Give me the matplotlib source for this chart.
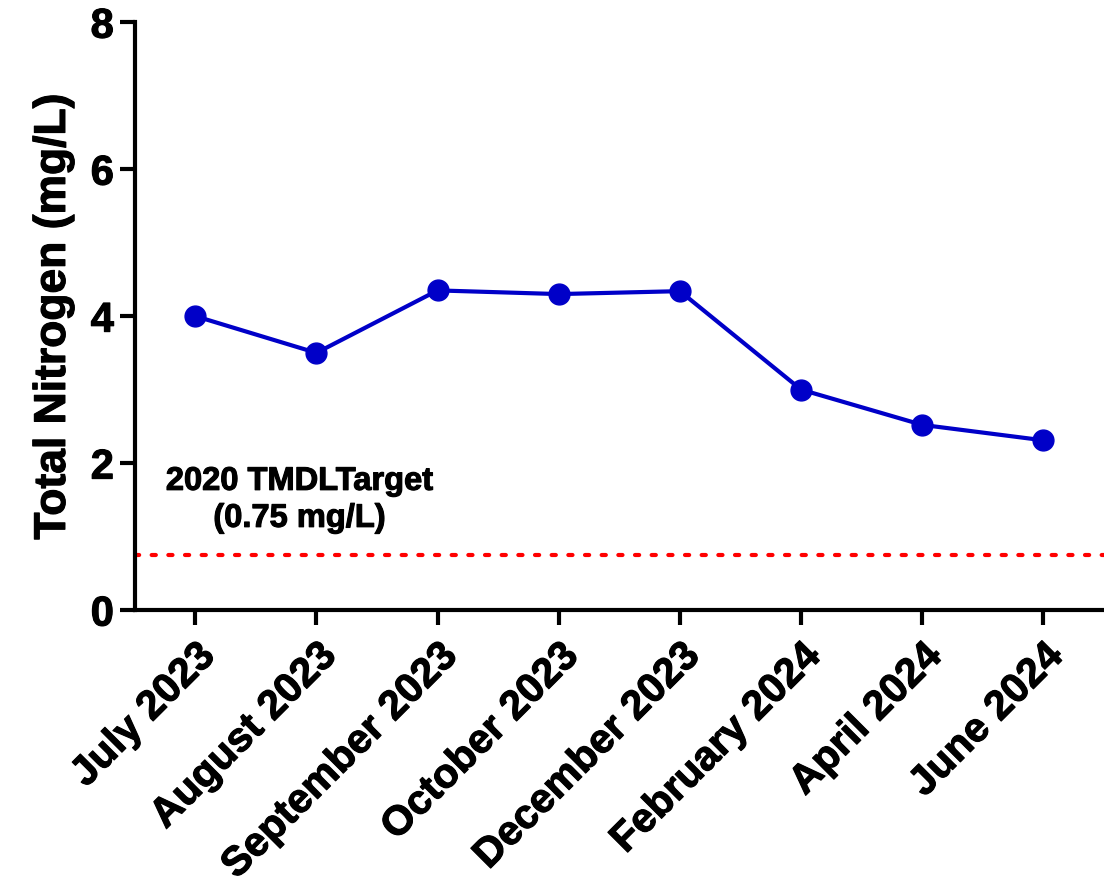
import matplotlib
matplotlib.use('Agg')
import matplotlib.pyplot as plt
import matplotlib.patheffects as pe

months = ['July 2023', 'August 2023', 'September 2023', 'October 2023',
          'December 2023', 'February 2024', 'April 2024', 'June 2024']
tn = [4.0, 3.5, 4.35, 4.3, 4.34, 3.0, 2.52, 2.31]
target = 0.75
target_label = '2020 TMDLTarget\n(0.75 mg/L)'

plt.rcParams['font.family'] = ['Liberation Sans', 'DejaVu Sans']
plt.rcParams['font.weight'] = 'bold'

# slightly heavier look for the bold text
heavy = [pe.withStroke(linewidth=0.8, foreground='black')]

fig = plt.figure(figsize=(11.04, 8.88), dpi=100)
ax = fig.add_axes([0.122, 0.313, 0.878, 0.662])

x = list(range(len(months)))
ax.plot(x, tn, color='#0000C8', lw=3, marker='o', ms=15, zorder=3)
ax.axhline(target, color='#FF0000', lw=3, ls=(0, (1, 3)), dash_capstyle='round')
ax.text(0.86, 1.5, target_label, ha='center', va='center', fontsize=23.5,
        fontweight='bold', linespacing=1.25, path_effects=heavy)

ax.set_xlim(-0.5, 7.5)
ax.set_ylim(0, 8)
ax.set_yticks([0, 2, 4, 6, 8])
ax.set_xticks(x)
ax.set_xticklabels(months, rotation=45, ha='right', rotation_mode='anchor')
ax.set_ylabel('Total Nitrogen (mg/L)', fontsize=32, fontweight='bold', labelpad=12,
              path_effects=heavy)

for s in ['top', 'right']:
    ax.spines[s].set_visible(False)
for s in ['left', 'bottom']:
    ax.spines[s].set_linewidth(3)
ax.tick_params(axis='both', direction='out', length=11, width=3, labelsize=30)
ax.tick_params(axis='x', labelsize=29.5, pad=8)
ax.tick_params(axis='y', pad=4)
for lab in ax.get_xticklabels() + ax.get_yticklabels():
    lab.set_path_effects(heavy)

fig.savefig('out.png', dpi=100)
